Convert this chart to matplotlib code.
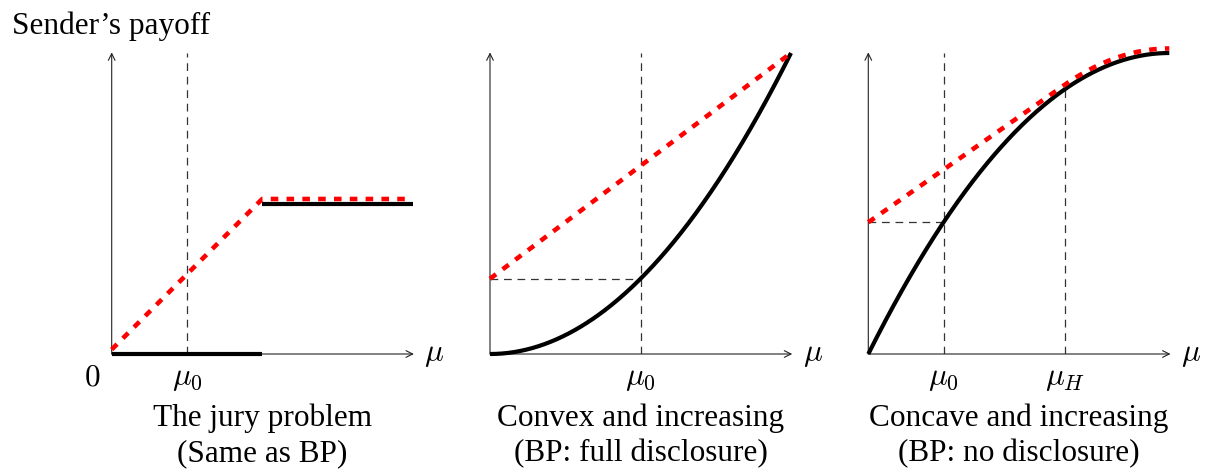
import numpy as np
import matplotlib
matplotlib.use("Agg")
import matplotlib.pyplot as plt

plt.rcParams['font.family'] = ['Liberation Serif', 'DejaVu Serif']
plt.rcParams['mathtext.fontset'] = 'cm'

# ---- data ----
titles = ["The jury problem", "Convex and increasing", "Concave and increasing"]
subtitles = ["(Same as BP)", "(BP: full disclosure)", "(BP: no disclosure)"]
y_label = "Sender\u2019s payoff"
mu0 = [0.25, 0.5, 0.25]
jury_threshold = 0.5      # belief where conviction starts
jury_high = 0.5           # payoff after threshold
convex_red_start = 0.25   # intercept of red line in panel 2
concave_muH = 0.655       # tangency point in panel 3
red_offset = [0.015, 0.0, 0.015]


def convex(m):
    return m ** 2


def concave(m):
    return 1 - (1 - m) ** 2


W, H = 1206, 471
fig = plt.figure(figsize=(W / 100, H / 100), dpi=100)

left_px = [111.7, 490.0, 868.3]
origin_y_px = 354.0
size_px = 301.0

BLACK_LW = 3.0
RED_LW = 3.3
RED_DASH = (0, (1.65, 1.8))
THIN_DASH = (0, (6.2, 4.6))
FS = 22.5

axes = []
for lp in left_px:
    ax = fig.add_axes([lp / W, (H - origin_y_px) / H, size_px / W, size_px / H])
    ax.set_xlim(0, 1)
    ax.set_ylim(0, 1)
    ax.axis('off')
    # axes with arrows
    ax.annotate("", xy=(1.004, 0), xytext=(0, 0),
                arrowprops=dict(arrowstyle='->', lw=0.8, color='#222222',
                                mutation_scale=12, shrinkA=0, shrinkB=0),
                annotation_clip=False)
    ax.annotate("", xy=(0, 1.002), xytext=(0, 0),
                arrowprops=dict(arrowstyle='->', lw=0.8, color='#222222',
                                mutation_scale=12, shrinkA=0, shrinkB=0),
                annotation_clip=False)
    ax.text(1.072, -0.003, r"$\mu$", fontsize=FS, ha='center', va='center')
    axes.append(ax)

thin_kw = dict(color='#333333', lw=0.9, linestyle=THIN_DASH, zorder=1)
black_kw = dict(color='black', lw=BLACK_LW, solid_capstyle='butt', zorder=3, clip_on=False)
red_kw = dict(color='red', lw=RED_LW, linestyle=RED_DASH, dash_capstyle='butt', zorder=4, clip_on=False)

# ---- Panel 1: jury ----
ax = axes[0]
ax.plot([mu0[0], mu0[0]], [0, 1], **thin_kw)
ax.plot([0, jury_threshold], [0, 0], **black_kw)
ax.plot([jury_threshold, 1], [jury_high, jury_high], **black_kw)
o = red_offset[0]
ax.plot([0, jury_threshold, 1], [o, jury_high + o, jury_high + o], **red_kw)
ax.text(-0.065, -0.08, r"$0$", fontsize=FS, ha='center', va='center')
ax.text(mu0[0], -0.08, r"$\mu_0$", fontsize=FS, ha='center', va='center')

# ---- Panel 2: convex ----
ax = axes[1]
m = np.linspace(0, 1, 300)
ax.plot([mu0[1], mu0[1]], [0, 1], **thin_kw)
ax.plot([0, mu0[1]], [convex(mu0[1])] * 2, **thin_kw)
ax.plot(m, convex(m), **black_kw)
ax.plot([0, 1], [convex_red_start, convex(1)], **red_kw)
ax.text(mu0[1], -0.08, r"$\mu_0$", fontsize=FS, ha='center', va='center')

# ---- Panel 3: concave ----
ax = axes[2]
f0 = concave(mu0[2])
fH = concave(concave_muH)
ax.plot([mu0[2], mu0[2]], [0, 1], **thin_kw)
ax.plot([concave_muH, concave_muH], [0, fH], **thin_kw)
ax.plot([0, mu0[2]], [f0, f0], **thin_kw)
ax.plot(m, concave(m), **black_kw)
o = red_offset[2]
mr = np.linspace(concave_muH, 1, 100)
ax.plot(np.concatenate([[0], mr]), np.concatenate([[f0], concave(mr) + o]), **red_kw)
ax.text(mu0[2], -0.08, r"$\mu_0$", fontsize=FS, ha='center', va='center')
ax.text(concave_muH, -0.08, r"$\mu_H$", fontsize=FS, ha='center', va='center')

# ---- texts ----
fig.text(12 / W, 1 - 34 / H, y_label, fontsize=FS, ha='left', va='baseline')
for lp, t, s in zip(left_px, titles, subtitles):
    cx = (lp + size_px / 2) / W
    fig.text(cx, 1 - 426 / H, t, fontsize=FS, ha='center', va='baseline')
    fig.text(cx, 1 - 461 / H, s, fontsize=FS, ha='center', va='baseline')

fig.savefig("out.png", dpi=100)
